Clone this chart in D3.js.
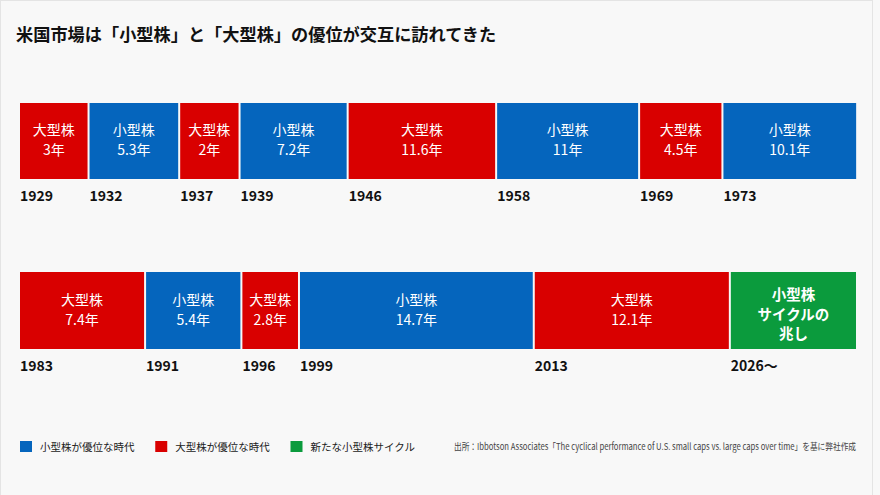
<!DOCTYPE html>
<html>
<head>
<meta charset="utf-8">
<script src="https://cdn.jsdelivr.net/npm/d3@7/dist/d3.min.js"></script>
<style>
  html, body { margin: 0; padding: 0; background: #f8f8f8; }
  svg { display: block; font-family: "Noto Sans CJK JP", "Noto Sans", sans-serif; }
</style>
</head>
<body>
<svg width="880" height="495"></svg>
<script>
// data
var row1Start = [1929, 1932, 1937, 1939, 1946, 1958, 1969, 1973];
var row1Years = [3, 5.3, 2, 7.2, 11.6, 11, 4.5, 10.1];
var row1Type  = ['large', 'small', 'large', 'small', 'large', 'small', 'large', 'small'];

var row2Start = [1983, 1991, 1996, 1999, 2013];
var row2Years = [7.4, 5.4, 2.8, 14.7, 12.1];
var row2Type  = ['large', 'small', 'large', 'small', 'large'];

var nextStartLabel = '2026〜';
var nextLabel = ['小型株', 'サイクルの', '兆し'];

var typeName  = { small: '小型株', large: '大型株', next: '新たな' };
var colors    = { small: '#0565bd', large: '#d90000', next: '#0b9b3d' };

var legendLabels = ['小型株が優位な時代', '大型株が優位な時代', '新たな小型株サイクル'];
var legendKeys   = ['small', 'large', 'next'];

var title  = '米国市場は「小型株」と「大型株」の優位が交互に訪れてきた';
var source = '出所：Ibbotson Associates「The cyclical performance of U.S. small caps vs. large caps over time」を基に弊社作成';

var svg = d3.select('svg');
var left = 20, right = 856, gap = 2;

// light card border
svg.append('rect')
    .attr('x', 0.5).attr('y', 0.5)
    .attr('width', 872).attr('height', 500)
    .attr('fill', '#f8f8f8')
    .attr('stroke', '#e4e4e4');

svg.append('text')
    .attr('x', 16).attr('y', 41)
    .attr('font-size', 17.2)
    .attr('font-weight', 700)
    .attr('fill', '#111')
    .text(title);

// widths are not strictly proportional in the original, so each row has its own scale
var w1 = d3.scaleLinear().domain([0, 10]).range([40, 131.8]);
var w2 = d3.scaleLinear().domain([0, 10]).range([13.9, 162.8]);

function layout(starts, years, types, wScale){
    var x = left;
    return starts.map(function(s, i){
        var w = wScale(years[i]);
        var d = { start: s, years: years[i], type: types[i], x: x, w: w };
        x += w + gap;
        return d;
    });
}

var row1 = layout(row1Start, row1Years, row1Type, w1);
var row2 = layout(row2Start, row2Years, row2Type, w2);
var last = row2[row2.length - 1];
var nx = last.x + last.w + gap;
row2.push({ start: nextStartLabel, years: null, type: 'next', x: nx, w: right - nx });

function drawRow(data, y0, h){
    var g = svg.append('g');
    var cell = g.selectAll('.cell')
        .data(data)
        .enter()
        .append('g')
        .attr('class', 'cell');

    cell.append('rect')
        .attr('x', function(d){ return d.x; })
        .attr('y', y0)
        .attr('width', function(d){ return d.w; })
        .attr('height', h)
        .attr('fill', function(d){ return colors[d.type]; });

    var mid = y0 + h / 2;

    // regular period labels
    var reg = cell.filter(function(d){ return d.type != 'next'; });
    reg.append('text')
        .attr('x', function(d){ return d.x + d.w / 2; })
        .attr('y', mid - 6)
        .attr('text-anchor', 'middle')
        .attr('font-size', 14)
        .attr('fill', '#fff')
        .text(function(d){ return typeName[d.type]; });
    reg.append('text')
        .attr('x', function(d){ return d.x + d.w / 2; })
        .attr('y', mid + 14)
        .attr('text-anchor', 'middle')
        .attr('font-size', 14)
        .attr('fill', '#fff')
        .text(function(d){ return d.years + '年'; });

    // the green "next cycle" cell
    var nxt = cell.filter(function(d){ return d.type == 'next'; });
    nextLabel.forEach(function(t, i){
        nxt.append('text')
            .attr('x', function(d){ return d.x + d.w / 2; })
            .attr('y', mid - 10.5 + i * 19.5)
            .attr('text-anchor', 'middle')
            .attr('font-size', 14.5)
            .attr('font-weight', 700)
            .attr('fill', '#fff')
            .text(t);
    });

    // start year under each cell
    cell.append('text')
        .attr('x', function(d){ return d.x; })
        .attr('y', y0 + h + 22)
        .attr('font-size', 14)
        .attr('font-weight', 700)
        .attr('fill', '#111')
        .text(function(d){ return d.start; });
}

drawRow(row1, 103, 76);
drawRow(row2, 272, 77);

// legend
var legX = d3.scalePoint().domain(legendKeys).range([20, 290.5]);
var leg = svg.selectAll('.leg')
    .data(legendKeys)
    .enter()
    .append('g')
    .attr('class', 'leg');
leg.append('rect')
    .attr('x', function(d){ return legX(d); })
    .attr('y', 441)
    .attr('width', 12).attr('height', 11)
    .attr('fill', function(d){ return colors[d]; });
leg.append('text')
    .attr('x', function(d){ return legX(d) + 20; })
    .attr('y', 451)
    .attr('font-size', 10.5)
    .attr('fill', '#222')
    .text(function(d, i){ return legendLabels[i]; });

// source note, squeezed horizontally like the original's condensed face
var sx = 0.81;
svg.append('text')
    .attr('transform', 'translate(856,450) scale(' + sx + ',1)')
    .attr('text-anchor', 'end')
    .attr('font-size', 9.5)
    .attr('fill', '#444')
    .text(source);
</script>
</body>
</html>
